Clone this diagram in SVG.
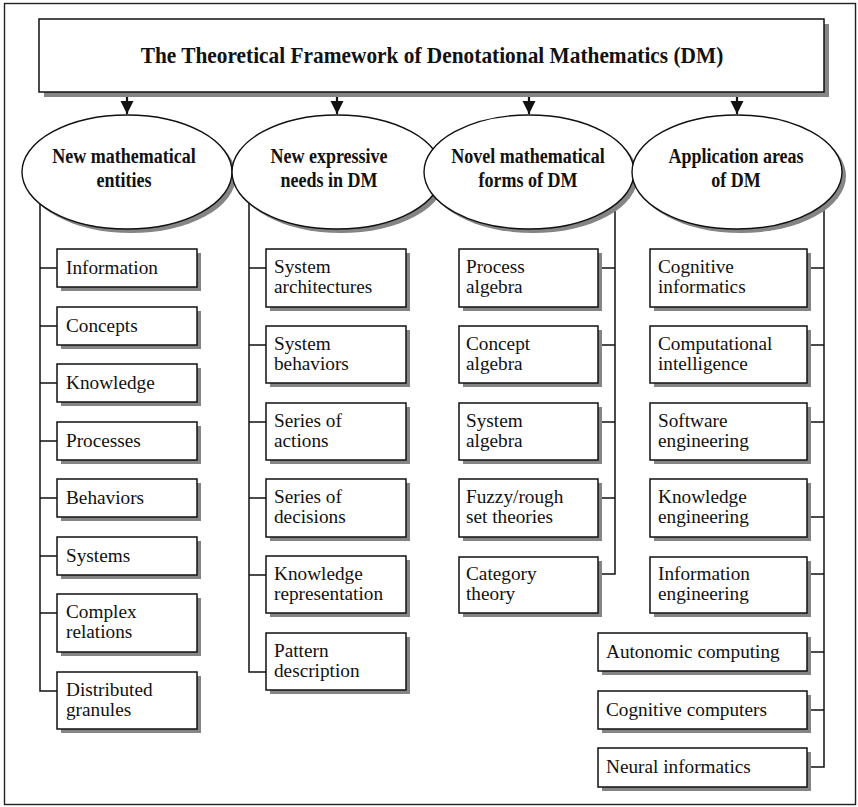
<svg xmlns="http://www.w3.org/2000/svg" width="858" height="807" viewBox="0 0 858 807">
<defs>
<style>
.frame{fill:#fff;stroke:#222;stroke-width:1.4}
.box{fill:#fff;stroke:#111;stroke-width:1.5}
.sh{fill:#858585;stroke:none}
.ell{fill:#fff;stroke:#111;stroke-width:1.4}
.ln{fill:none;stroke:#111;stroke-width:1.5}
.arr{fill:none;stroke:#111;stroke-width:2.2}
.t{font-family:"Liberation Serif","Times New Roman",serif;font-size:18px;fill:#111}
.eb{font-family:"Liberation Serif","Times New Roman",serif;font-size:20px;font-weight:bold;fill:#111;text-anchor:middle}
.tt{font-family:"Liberation Serif","Times New Roman",serif;font-size:24px;font-weight:bold;fill:#111;text-anchor:middle}
</style>
<marker id="ah" markerWidth="6" markerHeight="6" refX="6" refY="3" orient="auto" markerUnits="strokeWidth">
<path d="M0,0 L6,3 L0,6 Z" fill="#111"/>
</marker>
</defs>
<rect class="frame" x="4.5" y="3.5" width="851" height="801"/>

<g id="connectors">
<line class="arr" x1="127" y1="92" x2="127" y2="114" marker-end="url(#ah)"/>
<line class="arr" x1="337" y1="92" x2="337" y2="114" marker-end="url(#ah)"/>
<line class="arr" x1="529" y1="92" x2="529" y2="114" marker-end="url(#ah)"/>
<line class="arr" x1="737" y1="92" x2="737" y2="114" marker-end="url(#ah)"/>
<path class="ln" d="M40,172 V691 H57 M40,268 H57 M40,326 H57 M40,383 H57 M40,441 H57 M40,498 H57 M40,556 H57 M40,613 H57"/>
<path class="ln" d="M249,172 V672 H266 M249,268 H266 M249,345 H266 M249,422 H266 M249,498 H266 M249,575 H266"/>
<path class="ln" d="M615,172 V574 H598 M615,268 H598 M615,345 H598 M615,422 H598 M615,498 H598"/>
<path class="ln" d="M824,172 V767 H807 M824,268 H807 M824,345 H807 M824,422 H807 M824,517 H807 M824,574 H807 M824,652 H807 M824,710 H807"/>
</g>

<g id="title">
<rect class="sh" x="44" y="24" width="785" height="73"/>
<rect class="box" x="39" y="19" width="785" height="73"/>
<text class="tt" transform="translate(432 63) scale(0.89 1)">The Theoretical Framework of Denotational Mathematics (DM)</text>
</g>

<g id="e1">
<ellipse class="sh" cx="131" cy="176" rx="105" ry="57"/>
<ellipse class="ell" cx="127" cy="172" rx="105" ry="57"/>
<text class="eb" transform="translate(124 163) scale(0.9 1)"><tspan x="0" y="0">New mathematical</tspan><tspan x="0" y="24">entities</tspan></text>
</g>
<g id="e2">
<ellipse class="sh" cx="341" cy="176" rx="105" ry="57"/>
<ellipse class="ell" cx="337" cy="172" rx="105" ry="57"/>
<text class="eb" transform="translate(329 163) scale(0.9 1)"><tspan x="0" y="0">New expressive</tspan><tspan x="0" y="24">needs in DM</tspan></text>
</g>
<g id="e3">
<ellipse class="sh" cx="533" cy="176" rx="105" ry="57"/>
<ellipse class="ell" cx="529" cy="172" rx="105" ry="57"/>
<text class="eb" transform="translate(528 163) scale(0.9 1)"><tspan x="0" y="0">Novel mathematical</tspan><tspan x="0" y="24">forms of DM</tspan></text>
</g>
<g id="e4">
<ellipse class="sh" cx="741" cy="176" rx="105" ry="57"/>
<ellipse class="ell" cx="737" cy="172" rx="105" ry="57"/>
<text class="eb" transform="translate(736 163) scale(0.9 1)"><tspan x="0" y="0">Application areas</tspan><tspan x="0" y="24">of DM</tspan></text>
</g>

<!-- Column 1 -->
<g id="c1-information"><rect class="sh" x="61" y="253" width="140" height="38"/><rect class="box" x="57" y="249" width="140" height="38"/><text class="t" transform="translate(66 274) scale(1.07 1)">Information</text></g>
<g id="c1-concepts"><rect class="sh" x="61" y="311" width="140" height="38"/><rect class="box" x="57" y="307" width="140" height="38"/><text class="t" transform="translate(66 332) scale(1.07 1)">Concepts</text></g>
<g id="c1-knowledge"><rect class="sh" x="61" y="368" width="140" height="38"/><rect class="box" x="57" y="364" width="140" height="38"/><text class="t" transform="translate(66 389) scale(1.07 1)">Knowledge</text></g>
<g id="c1-processes"><rect class="sh" x="61" y="426" width="140" height="38"/><rect class="box" x="57" y="422" width="140" height="38"/><text class="t" transform="translate(66 447) scale(1.07 1)">Processes</text></g>
<g id="c1-behaviors"><rect class="sh" x="61" y="483" width="140" height="38"/><rect class="box" x="57" y="479" width="140" height="38"/><text class="t" transform="translate(66 504) scale(1.07 1)">Behaviors</text></g>
<g id="c1-systems"><rect class="sh" x="61" y="541" width="140" height="38"/><rect class="box" x="57" y="537" width="140" height="38"/><text class="t" transform="translate(66 562) scale(1.07 1)">Systems</text></g>
<g id="c1-complex"><rect class="sh" x="61" y="598" width="140" height="58"/><rect class="box" x="57" y="594" width="140" height="58"/><text class="t" transform="translate(66 618) scale(1.07 1)"><tspan x="0" y="0">Complex</tspan><tspan x="0" y="20">relations</tspan></text></g>
<g id="c1-distributed"><rect class="sh" x="61" y="676" width="140" height="57"/><rect class="box" x="57" y="672" width="140" height="57"/><text class="t" transform="translate(66 696) scale(1.07 1)"><tspan x="0" y="0">Distributed</tspan><tspan x="0" y="20">granules</tspan></text></g>

<!-- Column 2 -->
<g id="c2-arch"><rect class="sh" x="270" y="253" width="140" height="58"/><rect class="box" x="266" y="249" width="140" height="58"/><text class="t" transform="translate(274 273) scale(1.07 1)"><tspan x="0" y="0">System</tspan><tspan x="0" y="20">architectures</tspan></text></g>
<g id="c2-beh"><rect class="sh" x="270" y="330" width="140" height="57"/><rect class="box" x="266" y="326" width="140" height="57"/><text class="t" transform="translate(274 350) scale(1.07 1)"><tspan x="0" y="0">System</tspan><tspan x="0" y="20">behaviors</tspan></text></g>
<g id="c2-actions"><rect class="sh" x="270" y="407" width="140" height="57"/><rect class="box" x="266" y="403" width="140" height="57"/><text class="t" transform="translate(274 427) scale(1.07 1)"><tspan x="0" y="0">Series of</tspan><tspan x="0" y="20">actions</tspan></text></g>
<g id="c2-decisions"><rect class="sh" x="270" y="483" width="140" height="58"/><rect class="box" x="266" y="479" width="140" height="58"/><text class="t" transform="translate(274 503) scale(1.07 1)"><tspan x="0" y="0">Series of</tspan><tspan x="0" y="20">decisions</tspan></text></g>
<g id="c2-krep"><rect class="sh" x="270" y="560" width="140" height="57"/><rect class="box" x="266" y="556" width="140" height="57"/><text class="t" transform="translate(274 580) scale(1.07 1)"><tspan x="0" y="0">Knowledge</tspan><tspan x="0" y="20">representation</tspan></text></g>
<g id="c2-pattern"><rect class="sh" x="270" y="637" width="140" height="57"/><rect class="box" x="266" y="633" width="140" height="57"/><text class="t" transform="translate(274 657) scale(1.07 1)"><tspan x="0" y="0">Pattern</tspan><tspan x="0" y="20">description</tspan></text></g>

<!-- Column 3 -->
<g id="c3-process"><rect class="sh" x="463" y="253" width="139" height="58"/><rect class="box" x="459" y="249" width="139" height="58"/><text class="t" transform="translate(466 273) scale(1.07 1)"><tspan x="0" y="0">Process</tspan><tspan x="0" y="20">algebra</tspan></text></g>
<g id="c3-concept"><rect class="sh" x="463" y="330" width="139" height="57"/><rect class="box" x="459" y="326" width="139" height="57"/><text class="t" transform="translate(466 350) scale(1.07 1)"><tspan x="0" y="0">Concept</tspan><tspan x="0" y="20">algebra</tspan></text></g>
<g id="c3-system"><rect class="sh" x="463" y="407" width="139" height="57"/><rect class="box" x="459" y="403" width="139" height="57"/><text class="t" transform="translate(466 427) scale(1.07 1)"><tspan x="0" y="0">System</tspan><tspan x="0" y="20">algebra</tspan></text></g>
<g id="c3-fuzzy"><rect class="sh" x="463" y="483" width="139" height="58"/><rect class="box" x="459" y="479" width="139" height="58"/><text class="t" transform="translate(466 503) scale(1.07 1)"><tspan x="0" y="0">Fuzzy/rough</tspan><tspan x="0" y="20">set theories</tspan></text></g>
<g id="c3-category"><rect class="sh" x="463" y="561" width="139" height="56"/><rect class="box" x="459" y="557" width="139" height="56"/><text class="t" transform="translate(466 580) scale(1.07 1)"><tspan x="0" y="0">Category</tspan><tspan x="0" y="20">theory</tspan></text></g>

<!-- Column 4 -->
<g id="c4-ci"><rect class="sh" x="654" y="253" width="157" height="58"/><rect class="box" x="650" y="249" width="157" height="58"/><text class="t" transform="translate(658 273) scale(1.07 1)"><tspan x="0" y="0">Cognitive</tspan><tspan x="0" y="20">informatics</tspan></text></g>
<g id="c4-comp"><rect class="sh" x="654" y="330" width="157" height="57"/><rect class="box" x="650" y="326" width="157" height="57"/><text class="t" transform="translate(658 350) scale(1.07 1)"><tspan x="0" y="0">Computational</tspan><tspan x="0" y="20">intelligence</tspan></text></g>
<g id="c4-se"><rect class="sh" x="654" y="407" width="157" height="57"/><rect class="box" x="650" y="403" width="157" height="57"/><text class="t" transform="translate(658 427) scale(1.07 1)"><tspan x="0" y="0">Software</tspan><tspan x="0" y="20">engineering</tspan></text></g>
<g id="c4-ke"><rect class="sh" x="654" y="483" width="157" height="58"/><rect class="box" x="650" y="479" width="157" height="58"/><text class="t" transform="translate(658 503) scale(1.07 1)"><tspan x="0" y="0">Knowledge</tspan><tspan x="0" y="20">engineering</tspan></text></g>
<g id="c4-ie"><rect class="sh" x="654" y="561" width="157" height="56"/><rect class="box" x="650" y="557" width="157" height="56"/><text class="t" transform="translate(658 580) scale(1.07 1)"><tspan x="0" y="0">Information</tspan><tspan x="0" y="20">engineering</tspan></text></g>
<g id="c4-auto"><rect class="sh" x="602" y="637" width="209" height="38"/><rect class="box" x="598" y="633" width="209" height="38"/><text class="t" transform="translate(606 658) scale(1.07 1)">Autonomic computing</text></g>
<g id="c4-cogcomp"><rect class="sh" x="602" y="695" width="209" height="38"/><rect class="box" x="598" y="691" width="209" height="38"/><text class="t" transform="translate(606 716) scale(1.07 1)">Cognitive computers</text></g>
<g id="c4-neural"><rect class="sh" x="602" y="752" width="209" height="39"/><rect class="box" x="598" y="748" width="209" height="39"/><text class="t" transform="translate(606 773) scale(1.07 1)">Neural informatics</text></g>
</svg>
